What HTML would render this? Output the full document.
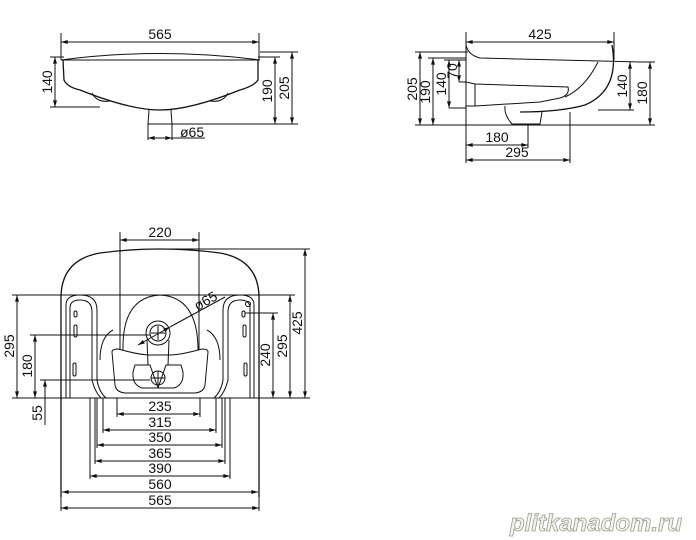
<!DOCTYPE html><html><head><style>body{margin:0;background:#fff}svg{display:block}text{font-family:"Liberation Sans",sans-serif;font-size:14px;fill:#111}</style></head><body>
<svg width="696" height="540" viewBox="0 0 696 540" xmlns="http://www.w3.org/2000/svg">
<defs><marker id="a" viewBox="0 0 10 6" refX="10" refY="3" markerWidth="7" markerHeight="4" orient="auto-start-reverse"><path d="M0,0L10,3L0,6z" fill="#111"/></marker></defs>
<g stroke="#111" stroke-width="1" fill="none">
<!-- TOP LEFT -->
<path d="M61,60 Q160,47 260,60"/><line x1="61" y1="60" x2="258" y2="60"/>
<path d="M63,60 L64,80 Q67,87 80,90 Q130,110 160,110 Q190,110 240,90 Q254,86 258,80 L258,60" stroke-width="1.3"/>
<path d="M92,93 Q97,103 110,101"/><path d="M228,93 Q223,103 210,101"/>
<path d="M149,110 L148,124 L172,124 L171,110"/>
<line x1="61" y1="33" x2="61" y2="60"/><line x1="259" y1="33" x2="259" y2="60"/>
<line x1="61" y1="42" x2="259" y2="42" marker-start="url(#a)" marker-end="url(#a)"/>
<line x1="50" y1="57" x2="64" y2="57"/><line x1="50" y1="107" x2="100" y2="107"/>
<line x1="55" y1="57" x2="55" y2="107" marker-start="url(#a)" marker-end="url(#a)"/>
<line x1="258" y1="57" x2="280" y2="57"/><line x1="260" y1="52" x2="298" y2="52"/><line x1="172" y1="124" x2="298" y2="124"/>
<line x1="275" y1="57" x2="275" y2="124" marker-start="url(#a)" marker-end="url(#a)"/>
<line x1="292" y1="52" x2="292" y2="124" marker-start="url(#a)" marker-end="url(#a)"/>
<line x1="148" y1="124" x2="148" y2="140"/><line x1="172" y1="124" x2="172" y2="140"/>
<line x1="148" y1="138" x2="172" y2="138" marker-start="url(#a)" marker-end="url(#a)"/><line x1="172" y1="138" x2="205" y2="138"/>
<!-- TOP RIGHT -->
<path d="M466,45 Q468,55 480,58 L640,62"/>
<path d="M612,45 Q620,90 585,105 Q560,112 520,112" stroke-width="1.3"/>
<path d="M598,62 Q585,88 565,97"/>
<path d="M466,82 L475,84 L568,87 Q570,95 560,98 L540,102 L475,106 L466,106"/>
<path d="M475,84 L475,106"/>
<path d="M505,106 Q504,115 512,124 L540,124 L542,112"/>
<line x1="466" y1="32" x2="466" y2="125"/><line x1="614" y1="32" x2="614" y2="60"/>
<line x1="466" y1="42" x2="614" y2="42" marker-start="url(#a)" marker-end="url(#a)"/>
<line x1="415" y1="52" x2="468" y2="52"/><line x1="428" y1="58" x2="466" y2="58"/><line x1="444" y1="60" x2="466" y2="60"/><line x1="449" y1="108" x2="466" y2="108"/>
<line x1="415" y1="125" x2="655" y2="125"/>
<line x1="420" y1="52" x2="420" y2="125" marker-start="url(#a)" marker-end="url(#a)"/>
<line x1="433" y1="58" x2="433" y2="125" marker-start="url(#a)" marker-end="url(#a)"/>
<line x1="449" y1="60" x2="449" y2="108" marker-start="url(#a)" marker-end="url(#a)"/>
<line x1="459" y1="60" x2="459" y2="82" marker-start="url(#a)" marker-end="url(#a)"/><line x1="459" y1="82" x2="466" y2="82"/>
<line x1="598" y1="110" x2="634" y2="110"/><line x1="640" y1="62" x2="655" y2="62"/>
<line x1="630" y1="62" x2="630" y2="110" marker-start="url(#a)" marker-end="url(#a)"/>
<line x1="650" y1="62" x2="650" y2="125" marker-start="url(#a)" marker-end="url(#a)"/>
<line x1="528" y1="125" x2="528" y2="148"/><line x1="570" y1="112" x2="570" y2="163"/><line x1="466" y1="125" x2="466" y2="163"/>
<line x1="466" y1="145" x2="528" y2="145" marker-start="url(#a)" marker-end="url(#a)"/>
<line x1="466" y1="160" x2="570" y2="160" marker-start="url(#a)" marker-end="url(#a)"/>
<!-- FRONT -->
<path d="M61,497 L61,300 Q60,260 100,253 Q160,245 220,253 Q260,260 259,300 L259,497" stroke-width="1.3"/>
<path d="M66,398 L66,305 Q66,295 80,295 Q97,295 97,310 L97,380 Q99,392 106,398"/>
<path d="M70,398 L70,308 Q70,300 80,300 Q92,300 92,312 L92,380 Q95,392 101,398"/>
<path d="M254,398 L254,305 Q254,295 240,295 Q223,295 223,310 L223,380 Q221,392 214,398"/>
<path d="M250,398 L250,308 Q250,300 240,300 Q228,300 228,312 L228,380 Q225,392 219,398"/>
<rect x="74" y="311" width="3" height="6" rx="1.5"/><rect x="74" y="325" width="3" height="12" rx="1.5"/><rect x="73" y="363" width="3" height="13" rx="1.5"/>
<rect x="242" y="311" width="3" height="6" rx="1.5"/><circle cx="248" cy="304" r="2.5"/><rect x="243" y="325" width="3" height="12" rx="1.5"/><rect x="244" y="363" width="3" height="13" rx="1.5"/>
<path d="M113,330 Q100,337 100,360"/><path d="M207,330 Q220,337 220,360"/>
<path d="M123,350 Q122,297 160,295 Q198,297 198,350"/>
<path d="M112,352 Q112,349 118,349 Q140,355 150,355 L170,355 Q180,355 202,349 Q208,349 208,352 L205,385 Q204,392 195,393 L125,393 Q116,392 115,385 Z"/>
<circle cx="158" cy="333" r="12"/><circle cx="158" cy="333" r="8"/>
<path d="M147,340 L148,365 M169,340 L168,365"/>
<path d="M135,365 L150,365 L158,388 L142,388 Q132,385 133,372 Z"/><path d="M181,365 L166,365 L158,388 L174,388 Q184,385 183,372 Z"/>
<circle cx="158" cy="378" r="7"/>
<line x1="151" y1="333" x2="165" y2="333"/><line x1="158" y1="326" x2="158" y2="340"/>
<line x1="151" y1="378" x2="165" y2="378"/><line x1="158" y1="371" x2="158" y2="385"/>
<line x1="138" y1="345" x2="170" y2="327" marker-start="url(#a)" marker-end="url(#a)"/><line x1="170" y1="327" x2="225" y2="297"/>
<line x1="120" y1="232" x2="120" y2="350"/><line x1="199" y1="232" x2="199" y2="350"/>
<line x1="120" y1="240" x2="199" y2="240" marker-start="url(#a)" marker-end="url(#a)"/>
<line x1="160" y1="249" x2="310" y2="249"/>
<line x1="12" y1="295" x2="295" y2="295"/><line x1="30" y1="335" x2="150" y2="335"/><line x1="40" y1="380" x2="150" y2="380"/>
<line x1="245" y1="313" x2="278" y2="313"/>
<line x1="12" y1="398" x2="310" y2="398"/>
<line x1="17" y1="295" x2="17" y2="398" marker-start="url(#a)" marker-end="url(#a)"/>
<line x1="35" y1="335" x2="35" y2="398" marker-start="url(#a)" marker-end="url(#a)"/>
<line x1="45" y1="380" x2="45" y2="425" marker-start="url(#a)"/>
<line x1="273" y1="313" x2="273" y2="398" marker-start="url(#a)" marker-end="url(#a)"/>
<line x1="290" y1="295" x2="290" y2="398" marker-start="url(#a)" marker-end="url(#a)"/>
<line x1="305" y1="249" x2="305" y2="398" marker-start="url(#a)" marker-end="url(#a)"/>
<path d="M117,398V417M200,398V417M103,398V433M216,398V433M97,398V448M222,398V448M95,398V464M225,398V464M90,398V479M230,398V479"/>
<line x1="117" y1="414" x2="200" y2="414" marker-start="url(#a)" marker-end="url(#a)"/>
<line x1="103" y1="430" x2="216" y2="430" marker-start="url(#a)" marker-end="url(#a)"/>
<line x1="97" y1="445" x2="222" y2="445" marker-start="url(#a)" marker-end="url(#a)"/>
<line x1="95" y1="461" x2="225" y2="461" marker-start="url(#a)" marker-end="url(#a)"/>
<line x1="90" y1="476" x2="230" y2="476" marker-start="url(#a)" marker-end="url(#a)"/>
<line x1="62" y1="492" x2="258" y2="492" marker-start="url(#a)" marker-end="url(#a)"/>
<line x1="61" y1="508" x2="259" y2="508" marker-start="url(#a)" marker-end="url(#a)"/><line x1="61" y1="497" x2="61" y2="511"/><line x1="259" y1="497" x2="259" y2="511"/>
</g>
<g text-anchor="middle">
<text x="160" y="39">565</text>
<text x="180" y="137" text-anchor="start">ø65</text>
<text transform="translate(52,82) rotate(-90)">140</text>
<text transform="translate(272,91) rotate(-90)">190</text>
<text transform="translate(289,88) rotate(-90)">205</text>
<text x="540" y="39">425</text>
<text transform="translate(417,89) rotate(-90)">205</text>
<text transform="translate(430,92) rotate(-90)">190</text>
<text transform="translate(446,84) rotate(-90)">140</text>
<text transform="translate(457,71) rotate(-90)">70</text>
<text transform="translate(627,86) rotate(-90)">140</text>
<text transform="translate(647,93) rotate(-90)">180</text>
<text x="497" y="142">180</text>
<text x="517" y="157">295</text>
<text x="160" y="237">220</text>
<text transform="translate(208,305) rotate(-30)">ø65</text>
<text transform="translate(14,346) rotate(-90)">295</text>
<text transform="translate(32,366) rotate(-90)">180</text>
<text transform="translate(42,413) rotate(-90)">55</text>
<text transform="translate(270,355) rotate(-90)">240</text>
<text transform="translate(287,346) rotate(-90)">295</text>
<text transform="translate(302,323) rotate(-90)">425</text>
<text x="160" y="411">235</text><text x="160" y="427">315</text><text x="160" y="442">350</text><text x="160" y="458">365</text><text x="160" y="473">390</text><text x="160" y="489">560</text><text x="160" y="505">565</text>
</g>
<text x="510" y="531" style="font-size:24px;font-style:italic;font-weight:bold;fill:#f4f4ee;stroke:#9a9a90;stroke-width:0.8">plitkanadom.ru</text>
</svg></body></html>
